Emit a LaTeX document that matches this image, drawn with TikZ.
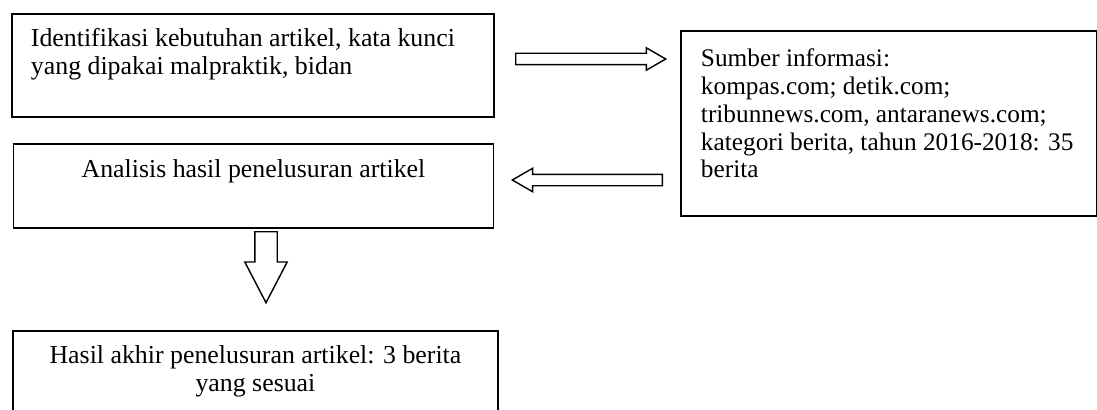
\documentclass[tikz,border=0pt]{standalone}
\usepackage{fontspec}
\setmainfont{Liberation Serif}
\usetikzlibrary{shapes.arrows}

\tikzset{
  box/.style={draw, line width=1.1pt, anchor=north west, inner xsep=0.38cm,
    inner ysep=0.28cm, font=\fontsize{14.7}{15.9}\selectfont},
  blockarrow/.style={draw, line width=0.8pt, single arrow, inner xsep=0pt,
    single arrow head indent=0pt, anchor=tail},
}

\begin{document}
\begin{tikzpicture}
  \useasboundingbox (0,0) rectangle (21.94,-8.2);

  % left column
  \node[box] (ident) at (0.22,-0.26)
    {\parbox[c][1.5cm][t]{8.88cm}{\raggedright
      Identifikasi kebutuhan artikel, kata kunci\\
      yang dipakai malpraktik, bidan}};
  \node[box, inner ysep=0.32cm] (analisis) at (0.25,-2.86)
    {\parbox[c][1.04cm][t]{8.84cm}{\centering
      Analisis hasil penelusuran artikel}};
  \node[box, inner ysep=0.3cm] (hasil) at (0.24,-6.6)
    {\parbox[c][2.2cm][t]{8.94cm}{\centering
      Hasil akhir penelusuran artikel: 3 berita\\
      yang sesuai}};

  % sources
  \node[box, inner xsep=0.4cm, inner ysep=0.36cm,
    font=\fontsize{14.4}{15.8}\selectfont] (sumber) at (13.6,-0.6)
    {\parbox[c][2.98cm][t]{7.52cm}{\raggedright
      Sumber informasi:\\
      kompas.com; detik.com;\\
      tribunnews.com, antaranews.com;\\
      \mbox{kategori berita, tahun 2016-2018: 35}\\
      berita}};

  % block arrows
  \node[blockarrow, inner ysep=0.1cm, single arrow head extend=0.11cm,
    single arrow tip angle=60, minimum height=3cm] (keSumber) at (10.3,-1.18) {};
  \node[blockarrow, inner ysep=0.1cm, single arrow head extend=0.12cm,
    single arrow tip angle=60, minimum height=3cm, rotate=180] (keAnalisis) at (13.26,-3.6) {};
  \node[blockarrow, inner ysep=0.21cm, single arrow head extend=0.2cm,
    single arrow tip angle=55, minimum height=1.42cm, rotate=-90] (keHasil) at (5.32,-4.62) {};
\end{tikzpicture}
\end{document}
